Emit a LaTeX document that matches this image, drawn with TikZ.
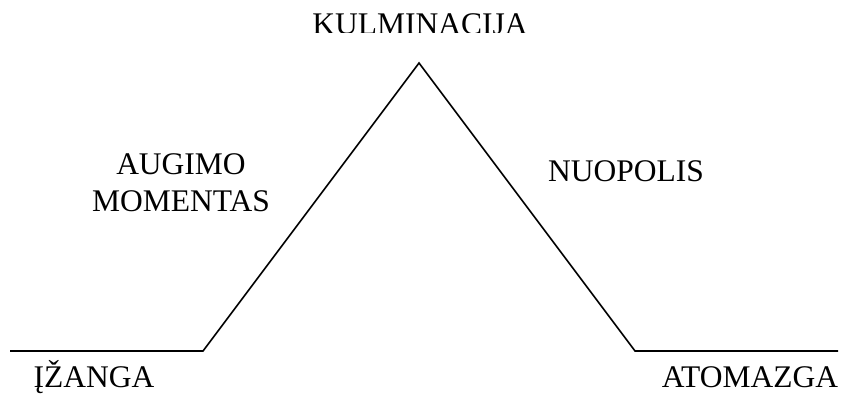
\documentclass[tikz,border=0pt]{standalone}
\usepackage{fontspec}
\setmainfont{Liberation Serif}
\begin{document}
\begin{tikzpicture}[x=1pt,y=1pt,
  lbl/.style={font=\fontsize{31.5}{37}\selectfont, inner sep=0pt, anchor=base, align=center},
  plot/.style={line width=1.6pt, line join=miter}]
\useasboundingbox (0,0) rectangle (841,394);
\coordinate (s) at (10,43);
\coordinate (a) at (203,43);
\coordinate (p) at (419,331);
\coordinate (b) at (635,43);
\coordinate (e) at (838,43);
\draw[plot] (s) -- (a) -- (p) -- (b) -- (e);
\begin{scope}
\clip (0,361) rectangle (841,394);
\node[lbl] (kul) at (420,359) {KULMINACIJA};
\end{scope}
\node[lbl] (aug) at (181,182) {AUGIMO\\MOMENTAS};
\node[lbl] (nuo) at (626,212) {NUOPOLIS};
\node[lbl] (iz) at (94,7) {ĮŽANGA};
\node[lbl] (ato) at (750,7) {ATOMAZGA};
\end{tikzpicture}
\end{document}
